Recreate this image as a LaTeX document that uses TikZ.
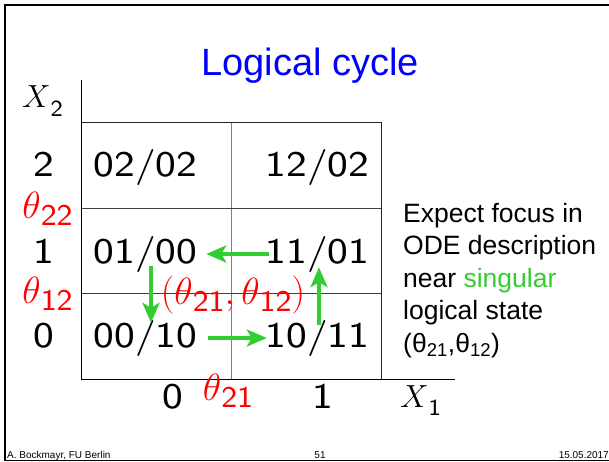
\documentclass[tikz,border=0pt]{standalone}
\usepackage{fix-cm}
\usepackage{fontspec}
\usepackage{xcolor}
\usepackage{graphicx}
\usetikzlibrary{arrows.meta,positioning,calc}
\newfontfamily\arial{Liberation Sans}
\newfontfamily\cmss{lmsans8-regular.otf}[FakeStretch=1.08]
\newfontfamily\cmsn{lmsans8-regular.otf}
\newcommand\subsf[3]{\mbox{\raisebox{-#1}{\cmsn\fontsize{#2}{#2}\selectfont#3}}}
\definecolor{cycgreen}{HTML}{33CC33}
\definecolor{thred}{HTML}{FF0000}
\definecolor{ttlblue}{HTML}{0000FF}

\begin{document}
\begin{tikzpicture}[x=1pt, y=-1pt,
  cell/.style={inner sep=0pt, anchor=base, font=\cmss\fontsize{36}{40}\selectfont},
  lab/.style={inner sep=0pt, anchor=base, font=\cmss\fontsize{36}{40}\selectfont},
  thr/.style={inner sep=0pt, anchor=base, text=thred, font=\fontsize{38}{40}\selectfont},
  axl/.style={inner sep=0pt, anchor=base west, font=\fontsize{32}{34}\selectfont},
  foot/.style={inner sep=0pt, font=\arial\fontsize{10}{12}\selectfont},
  flow/.style={->, draw=cycgreen, line width=4pt, >={Stealth[length=20pt,width=17pt,inset=5pt]}},
  >=Stealth]
\useasboundingbox (0,0) rectangle (609,461);
% slide frame
\draw[line width=2pt] (609,5) -- (5,5) -- (5,461);
\draw[line width=0.8pt] (5,460) -- (609,460);
\node[inner sep=0pt, anchor=base, text=ttlblue, font=\arial\fontsize{38}{40}\selectfont] (title) at (310,75) {Logical cycle};
% state grid
\draw[gray, line width=1pt] (231,122) -- (231,379);
\draw[black!75, line width=1pt] (81,208) -- (381,208) (81,293) -- (381,293);
\draw[black!85, line width=1pt] (81,122) -- (381,122) -- (381,379);
\draw[black, line width=1pt] (81,80) -- (81,379) -- (455,379);
\node[axl] (x2) at (22,107) {$X$\subsf{9pt}{23}{2}};
\node[axl] (x1) at (400,407) {$X$\subsf{8pt}{23}{1}};
\node[lab] (l2) at (44,176) {2};
\node[lab] (l1) at (44,263) {1};
\node[lab] (l0) at (44,347) {0};
\node[lab] (b0) at (173,408) {0};
\node[lab] (b1) at (323,408) {1};
\node[thr] (t22) at (47.5,218) {$\theta\subsf{7pt}{30}{22}$};
\node[thr] (t12) at (47.5,303) {$\theta\subsf{7pt}{30}{12}$};
\node[thr] (t21) at (228,400) {$\theta\subsf{7pt}{30}{21}$};
\node[cell] (n02) at (145.5,176) {02/02};
\node[cell] (n12) at (317.5,176) {12/02};
\node[cell] (n01) at (145.5,263) {01/00};
\node[cell] (n11) at (317.5,263) {11/01};
\node[cell] (n00) at (145.5,347) {00/10};
\node[cell] (n10) at (317.5,347) {10/11};
\node[thr] (sing) at (233,304) {$(\theta\subsf{7pt}{30}{21},\theta\subsf{7pt}{30}{12})$};
\draw[flow, shorten <=-2.9pt, shorten >=8.9pt] (n11.west) -- (n01.east);
\draw[flow, shorten <=-6pt, shorten >=-3pt] ([xshift=5.5pt]n01.south) -- ([xshift=5.5pt]n00.north);
\draw[flow, shorten <=10.9pt, shorten >=-1.1pt] (n00.east) -- (n10.west);
\draw[flow, shorten <=-5pt, shorten >=-5pt] ([xshift=1.5pt]n10.north) -- ([xshift=1.5pt]n11.south);
\node[inner sep=0pt, anchor=north west, align=left, font=\arial\fontsize{26.5}{32.5}\selectfont] (expl) at (403,203)
  {Expect focus in\\ODE description\\near \textcolor{cycgreen}{singular}\\logical state\\(θ\textsubscript{21},θ\textsubscript{12})};
\node[foot, anchor=base west] (auth) at (7,458) {A. Bockmayr, FU Berlin};
\node[foot, anchor=base] (page) at (320,458) {51};
\node[foot, anchor=base east] (date) at (609,458) {15.05.2017};
\end{tikzpicture}
\end{document}
